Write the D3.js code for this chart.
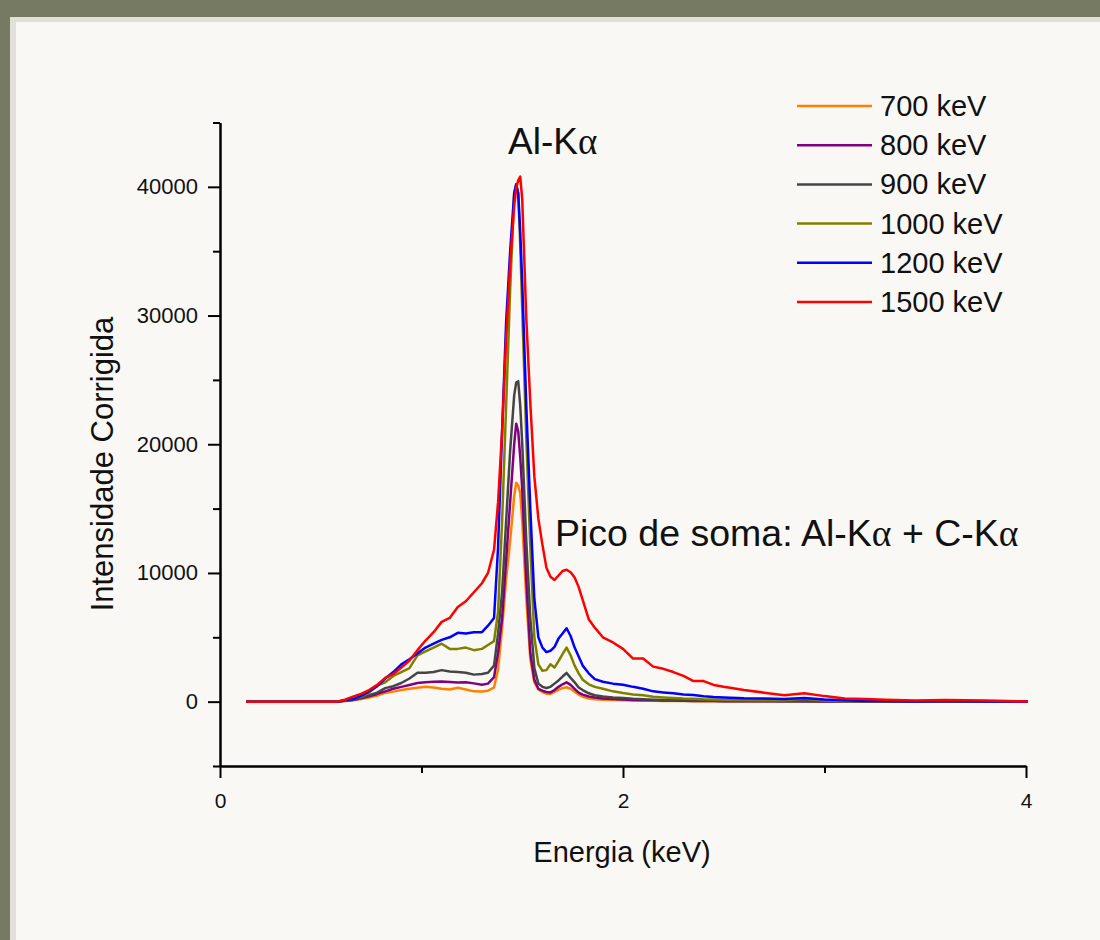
<!DOCTYPE html>
<html>
<head>
<meta charset="utf-8">
<script src="https://cdn.jsdelivr.net/npm/d3@7"></script>
<style>
html, body { margin: 0; padding: 0; background: #767a62; overflow: hidden; }
#panel { position: absolute; left: 10px; top: 17px; width: 1090px; height: 923px;
  background: #f9f8f4; border-top: 5px solid #e1e1da; border-left: 6px solid #e1e1da; box-sizing: border-box; }
#chart { position: absolute; left: 0; top: 0; }
</style>
</head>
<body>
<div id="panel"></div>
<div id="chart"></div>
<script>
const energy = [0.13, 0.30, 0.45, 0.58,
  0.62, 0.66, 0.70, 0.74, 0.78, 0.82, 0.86, 0.90, 0.94, 0.98, 1.02, 1.06, 1.10, 1.14, 1.18, 1.22, 1.26, 1.30,
  1.33, 1.36, 1.38, 1.40, 1.42, 1.44, 1.46, 1.47, 1.48, 1.49, 1.50,
  1.52, 1.54, 1.56, 1.58, 1.60, 1.62, 1.64, 1.66, 1.68, 1.70, 1.72, 1.74, 1.76, 1.78, 1.80,
  1.83, 1.86, 1.90, 1.95,
  2.00, 2.05, 2.10, 2.15, 2.20, 2.25, 2.30, 2.35, 2.40, 2.45, 2.50,
  2.60, 2.70, 2.80, 2.90, 3.00, 3.10, 3.20, 3.30,
  3.45, 3.60, 3.80, 4.01];

const kev700 = [0, 0, 0, 0,
  50, 100, 200, 330, 470, 680, 780, 900, 1000, 1080, 1150, 1100, 1000, 950, 1080, 950, 800, 780,
  850, 1100, 2500, 5700, 9500, 12500, 16000, 17000, 16800, 16200, 14000,
  8000, 3300, 1500, 950, 750, 620, 600, 750, 930, 1050, 1120, 1000, 780, 550, 380,
  250, 180, 150, 120,
  100, 90, 80, 70, 60, 50, 50, 40, 40, 40, 30,
  30, 30, 30, 30, 20, 10, 10, 10,
  10, 10, 10, 5];

const kev800 = [0, 0, 0, 0,
  70, 130, 260, 420, 600, 800, 1000, 1150, 1300, 1450, 1500, 1550, 1560, 1530, 1480, 1500, 1420, 1320,
  1400, 1900, 3800, 6500, 11000, 15500, 20000, 21600, 21000, 19000, 16500,
  9500, 3800, 1700, 1000, 850, 750, 720, 900, 1150, 1350, 1500, 1300, 1000, 700, 550,
  400, 320, 250, 200,
  160, 130, 110, 100, 90, 80, 70, 60, 50, 50, 40,
  40, 30, 30, 40, 20, 10, 10, 10,
  10, 10, 10, 5];

const kev900 = [0, 0, 0, 0,
  80, 150, 300, 500, 700, 1050, 1200, 1450, 1800, 2250, 2250, 2300, 2450, 2350, 2300, 2250, 2100, 2150,
  2250, 2800, 5300, 8500, 14000, 19500, 23800, 24800, 24900, 23000, 20000,
  12500, 6500, 2600, 1400, 1150, 1060, 1150, 1400, 1650, 1950, 2230, 1850, 1500, 1100, 900,
  650, 500, 400, 320,
  280, 220, 180, 150, 130, 110, 100, 90, 80, 70, 60,
  50, 50, 40, 60, 30, 20, 20, 10,
  10, 10, 10, 5];

const kev1000 = [0, 0, 0, 0,
  100, 200, 400, 700, 1250, 1500, 2000, 2300, 2600, 3600, 3900, 4200, 4500, 4100, 4100, 4200, 4000, 4100,
  4400, 4700, 7000, 14000, 23000, 32000, 39500, 40200, 39500, 35500, 30500,
  20500, 12000, 5000, 2900, 2400, 2450, 2900, 2650, 3150, 3700, 4200, 3600, 2800, 2200, 1700,
  1350, 1150, 1000, 800,
  670, 560, 500, 380, 330, 280, 240, 220, 180, 160, 150,
  130, 110, 100, 220, 80, 40, 30, 20,
  15, 20, 15, 10];

const kev1200 = [0, 0, 0, 0,
  100, 200, 450, 800, 1200, 1800, 2300, 2900, 3300, 3750, 4200, 4500, 4800, 5000, 5350, 5300, 5400, 5400,
  5900, 6500, 12000, 21000, 29500, 35000, 39500, 40200, 39500, 36500, 32500,
  23000, 15000, 8000, 5000, 4200, 3850, 3950, 4250, 4900, 5300, 5700, 5100, 4200, 3500, 2800,
  2200, 1750, 1550, 1400,
  1320, 1150, 1000, 800, 720, 650, 560, 520, 420, 360, 320,
  260, 240, 210, 290, 160, 100, 60, 30,
  20, 30, 20, 10];

const kev1500 = [0, 0, 0, 0,
  150, 390, 600, 900, 1300, 1850, 2150, 2650, 3200, 4000, 4750, 5400, 6200, 6500, 7350, 7800, 8500, 9200,
  10000, 11800, 15500, 21000, 28200, 34000, 38500, 39900, 40500, 40800, 39000,
  29800, 23200, 17500, 14200, 12200, 10400, 9700, 9450, 9800, 10150, 10250, 10050, 9650, 8900, 7900,
  6400, 5750, 5000, 4600,
  4100, 3350, 3350, 2720, 2550, 2300, 2000, 1600, 1600, 1300, 1150,
  900, 700, 500, 650, 430, 250, 200, 150,
  80, 120, 80, 20];

const seriesNames = ['700 keV', '800 keV', '900 keV', '1000 keV', '1200 keV', '1500 keV'];
const seriesColors = ['#ff8000', '#800080', '#454545', '#808000', '#0000ff', '#ff0000'];
const seriesValues = [kev700, kev800, kev900, kev1000, kev1200, kev1500];

const xMajorTicks = [0, 2, 4];
const xMinorTicks = [1, 3];
const yMajorTicks = [0, 10000, 20000, 30000, 40000];
const yMinorTicks = [-5000, 5000, 15000, 25000, 35000, 45000];

const width = 1100, height = 940;
const font = '"Liberation Sans", Arial, sans-serif';

// Scales
const x = d3.scaleLinear().domain([0, 4]).range([220, 1026]);
const y = d3.scaleLinear().domain([-5000, 45000]).range([766, 122.5]);

const svg = d3.select('#chart').append('svg')
  .attr('width', width)
  .attr('height', height);

// Axes
const yAxis = svg.append('g')
  .attr('transform', `translate(${x(0)},0)`)
  .call(d3.axisLeft(y).tickValues(yMajorTicks).tickFormat(d3.format('d'))
    .tickSize(12).tickPadding(10).tickSizeOuter(0));
svg.append('g')
  .attr('transform', `translate(${x(0)},0)`)
  .call(d3.axisLeft(y).tickValues(yMinorTicks).tickSize(7).tickFormat('').tickSizeOuter(0));

const xAxis = svg.append('g')
  .attr('transform', `translate(0,${y(-5000)})`)
  .call(d3.axisBottom(x).tickValues(xMajorTicks).tickFormat(d3.format('d'))
    .tickSize(12).tickPadding(15).tickSizeOuter(0));
svg.append('g')
  .attr('transform', `translate(0,${y(-5000)})`)
  .call(d3.axisBottom(x).tickValues(xMinorTicks).tickSize(7).tickFormat('').tickSizeOuter(0));

svg.selectAll('.domain, .tick line').attr('stroke', '#000').attr('stroke-width', 2);
yAxis.selectAll('text').attr('font-family', font).attr('font-size', 22).attr('fill', '#111');
xAxis.selectAll('text').attr('font-family', font).attr('font-size', 21).attr('fill', '#111');

// Axis titles
svg.append('text')
  .attr('x', 622).attr('y', 862)
  .attr('text-anchor', 'middle')
  .attr('font-family', font).attr('font-size', 29).attr('fill', '#111')
  .text('Energia (keV)');

svg.append('text')
  .attr('transform', 'translate(113,464) rotate(-90)')
  .attr('text-anchor', 'middle')
  .attr('font-family', font).attr('font-size', 31).attr('fill', '#111')
  .text('Intensidade Corrigida');

// Lines
const line = d3.line()
  .x(d => x(d[0]))
  .y(d => y(d[1]));

svg.selectAll('.spectrum')
  .data(seriesValues)
  .enter().append('path')
  .attr('class', 'spectrum')
  .attr('fill', 'none')
  .attr('stroke', (d, i) => seriesColors[i])
  .attr('stroke-width', 2.5)
  .attr('stroke-linejoin', 'round')
  .attr('d', d => line(d.map((v, i) => [energy[i], v])));

// Legend
const legend = svg.selectAll('.legend')
  .data(seriesNames)
  .enter().append('g')
  .attr('class', 'legend')
  .attr('transform', (d, i) => `translate(797,${106 + i * 39.2})`);

legend.append('line')
  .attr('x1', 0).attr('x2', 75)
  .attr('stroke', (d, i) => seriesColors[i])
  .attr('stroke-width', 2.5);

legend.append('text')
  .attr('x', 83).attr('y', 10)
  .attr('font-family', font).attr('font-size', 29).attr('fill', '#111')
  .text(d => d);

// Annotations
function kAlpha(sel, parts) {
  parts.forEach(p => {
    sel.append('tspan')
      .attr('font-family', p.greek ? '"Liberation Serif", "DejaVu Serif", serif' : font)
      .text(p.t);
  });
}

const peakLabel = svg.append('text')
  .attr('x', 508).attr('y', 154)
  .attr('font-size', 37).attr('fill', '#111');
kAlpha(peakLabel, [{ t: 'Al-K' }, { t: 'α', greek: true }]);

const sumLabel = svg.append('text')
  .attr('x', 555).attr('y', 546)
  .attr('font-size', 37.5).attr('fill', '#111');
kAlpha(sumLabel, [{ t: 'Pico de soma: Al-K' }, { t: 'α', greek: true }, { t: ' + C-K' }, { t: 'α', greek: true }]);
</script>
</body>
</html>
